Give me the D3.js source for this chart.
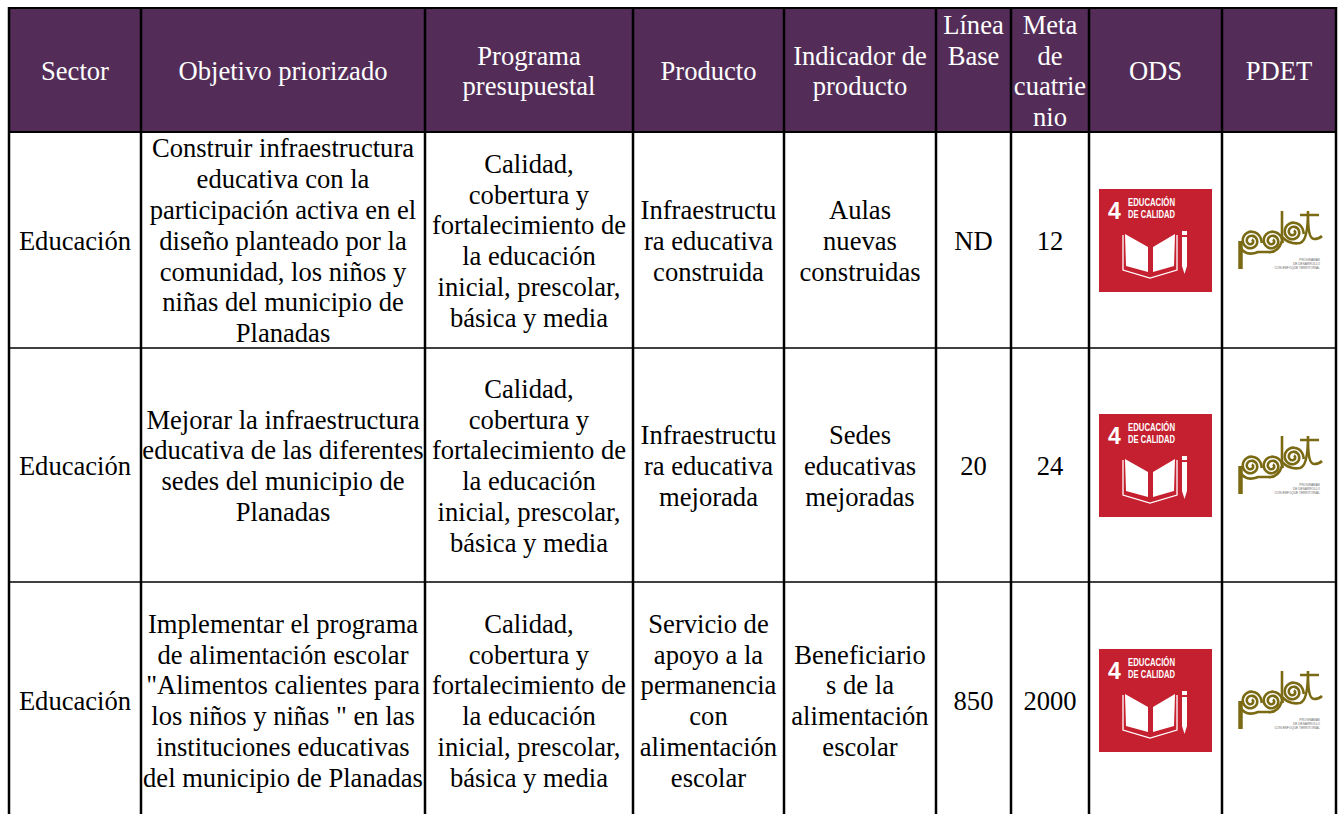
<!DOCTYPE html>
<html>
<head>
<meta charset="utf-8">
<script src="https://cdn.jsdelivr.net/npm/d3@7"></script>
<style>
    html, body { margin: 0; padding: 0; background: #fff; overflow: hidden; }
    text { font-family: "Liberation Serif", serif; }
</style>
</head>
<body>
<div id="chart"></div>
<script>
const columns = ["Sector", "Objetivo priorizado", "Programa presupuestal", "Producto", "Indicador de producto", "Línea Base", "Meta de cuatrienio", "ODS", "PDET"];
const headerLines = [["Sector"], ["Objetivo priorizado"], ["Programa", "presupuestal"], ["Producto"], ["Indicador de", "producto"], ["Línea", "Base"], ["Meta", "de", "cuatrie", "nio"], ["ODS"], ["PDET"]];
const sectors = ["Educación", "Educación", "Educación"];
const objetivos = [
    ["Construir infraestructura", "educativa con la", "participación activa en el", "diseño planteado por la", "comunidad, los niños y", "niñas del municipio de", "Planadas"],
    ["Mejorar la infraestructura", "educativa de las diferentes", "sedes del municipio de", "Planadas"],
    ["Implementar el programa", "de alimentación escolar", "\"Alimentos calientes para", "los niños y niñas \" en las", "instituciones educativas", "del municipio de Planadas"]
];
const programas = ["Calidad,", "cobertura y", "fortalecimiento de", "la educación", "inicial, prescolar,", "básica y media"];
const productos = [
    ["Infraestructu", "ra educativa", "construida"],
    ["Infraestructu", "ra educativa", "mejorada"],
    ["Servicio de", "apoyo a la", "permanencia", "con", "alimentación", "escolar"]
];
const indicadores = [
    ["Aulas", "nuevas", "construidas"],
    ["Sedes", "educativas", "mejoradas"],
    ["Beneficiario", "s de la", "alimentación", "escolar"]
];
const lineaBase = ["ND", "20", "850"];
const metas = ["12", "24", "2000"];

// grid edges
const colEdges = [9, 141, 425, 633, 784, 936, 1011, 1089, 1222, 1336];
const rowEdges = [8, 132, 348, 582];
const rowCentres = [241.7, 466.7, 701.7];
const badgeTops = [189, 414, 649];

const svg = d3.select("#chart").append("svg")
    .attr("width", 1338)
    .attr("height", 814)
    .style("display", "block");

const x = d3.scaleOrdinal().domain(columns).range(colEdges.slice(0, -1));
const colWidth = d3.scaleOrdinal().domain(columns).range(d3.pairs(colEdges).map(p => p[1] - p[0]));

const lineH = 30.8;
const spiral = d3.lineRadial().curve(d3.curveBasis);

function drawLines(lines, cx, cy, fill) {
    const top = cy - (lines.length - 1) * lineH / 2;
    svg.append("g").selectAll("text")
        .data(lines)
        .join("text")
        .attr("x", cx)
        .attr("y", (d, i) => top + i * lineH + 8)
        .attr("text-anchor", "middle")
        .attr("font-size", 26.6)
        .attr("fill", fill)
        .text(d => d);
}

// ODS 4 badge
function drawOds(bx, by) {
    const g = svg.append("g").attr("transform", "translate(" + bx + "," + by + ")");
    const sans = "'Liberation Sans', sans-serif";
    g.append("rect").attr("width", 113).attr("height", 103).attr("fill", "#c5202f");
    g.append("text").attr("x", 9).attr("y", 30).attr("font-size", 23).attr("font-weight", 700)
        .attr("fill", "#fff").style("font-family", sans).text("4");
    ["EDUCACIÓN", "DE CALIDAD"].forEach((t, i) => {
        g.append("text").attr("x", 29).attr("y", 17 + i * 12).attr("font-size", 10).attr("font-weight", 700)
            .attr("textLength", 47).attr("lengthAdjust", "spacingAndGlyphs")
            .attr("fill", "#fff").style("font-family", sans).text(t);
    });
    // open book and pencil
    g.append("path").attr("d", "M26 45L49 58V83L27 77Z M76 45L54 58V83L75 77Z").attr("fill", "#fff");
    g.append("path").attr("d", "M24 46V81L51 89L78 81V46").attr("fill", "none").attr("stroke", "#fff").attr("stroke-width", 1.3);
    g.append("path").attr("d", "M83 42H88V46H83Z M83 48H88V77L85.5 85L83 77Z").attr("fill", "#fff");
}

// one loop of the PDET logo, an open spiral
function spiralPath(radius, turns, startAngle) {
    const pts = d3.range(0, 1.001, 0.04).map(t => [startAngle + t * turns * 2 * Math.PI, 1.5 + t * (radius - 1.5)]);
    return spiral(pts);
}

// PDET logo
function drawPdet(bx, by) {
    const g = svg.append("g").attr("transform", "translate(" + bx + "," + by + ")")
        .attr("fill", "none").attr("stroke", "#7b6a14").attr("stroke-width", 2.6);
    const spirals = [[13, 30], [34, 30], [55, 21]];
    g.selectAll("path.sp")
        .data(spirals)
        .join("path")
        .attr("class", "sp")
        .attr("transform", d => "translate(" + d[0] + "," + d[1] + ")")
        .attr("d", spiralPath(11, 2.2, 0.5));
    g.append("path").attr("d", "M2.5 58V30").attr("stroke-width", 4.5);
    g.append("path").attr("d", "M2 36Q8 46 20 41H30Q40 42 44 30V0");
    g.append("path").attr("d", "M44 26Q52 34 62 32Q70 30 70 0M70 4Q70 28 76 28Q81 28 84 25M62 4H81");
    g.append("g").attr("fill", "#666").attr("stroke", "none").selectAll("text")
        .data(["PROGRAMAS", "DE DESARROLLO", "CON ENFOQUE TERRITORIAL"])
        .join("text")
        .attr("x", 82).attr("y", (d, i) => 50 + i * 4.2)
        .attr("text-anchor", "end").attr("font-size", 3.2)
        .style("font-family", "'Liberation Sans', sans-serif")
        .text(d => d);
}

// header band
svg.append("rect")
    .attr("x", colEdges[0])
    .attr("y", rowEdges[0])
    .attr("width", colEdges[9] - colEdges[0])
    .attr("height", rowEdges[1] - rowEdges[0])
    .attr("fill", "#532d58");

columns.forEach((c, i) => {
    const cx = x(c) + colWidth(c) / 2;
    // Línea Base sits at the top of its cell, the others are centred
    drawLines(headerLines[i], cx, c === "Línea Base" ? 41.4 : 72, "#ffffff");
});

rowCentres.forEach((cy, r) => {
    const cell = (i, lines) => drawLines(lines, x(columns[i]) + colWidth(columns[i]) / 2, cy, "#000000");
    cell(0, [sectors[r]]);
    cell(1, objetivos[r]);
    cell(2, programas);
    cell(3, productos[r]);
    cell(4, indicadores[r]);
    cell(5, [lineaBase[r]]);
    cell(6, [metas[r]]);
    drawOds(x(columns[7]) + 10, badgeTops[r]);
    drawPdet(x(columns[8]) + 16, badgeTops[r] + 22);
});

// grid lines
svg.append("g").selectAll("line")
    .data(colEdges)
    .join("line")
    .attr("x1", d => d).attr("x2", d => d)
    .attr("y1", rowEdges[0] - 1).attr("y2", 814)
    .attr("stroke", "#000").attr("stroke-width", 2.5);
svg.append("g").selectAll("line")
    .data(rowEdges)
    .join("line")
    .attr("x1", colEdges[0] - 1).attr("x2", colEdges[9] + 1)
    .attr("y1", d => d).attr("y2", d => d)
    .attr("stroke", "#000").attr("stroke-width", (d, i) => i < 2 ? 2.2 : 1.6);
</script>
</body>
</html>
